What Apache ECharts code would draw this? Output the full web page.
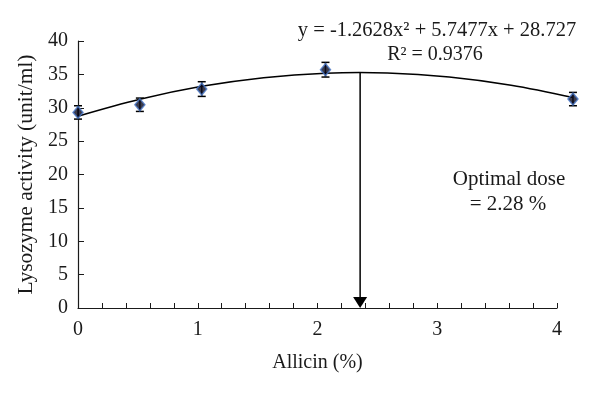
<!DOCTYPE html>
<html><head><meta charset="utf-8">
<script src="https://cdn.jsdelivr.net/npm/echarts@6/dist/echarts.min.js"></script>
<style>html,body{margin:0;padding:0;background:#fff}#c{width:600px;height:393px}</style>
</head><body><div id="c"></div>
<script>
// Data
const doseX = [0, 0.5, 1, 2, 4];
const activity = [29.3, 30.45, 32.8, 35.7, 31.3];
const errors = [1.0, 1.0, 1.1, 1.1, 1.0];
const trendX = [0, 0.5, 1, 1.5, 2, 2.5, 3, 3.5, 4];
const trendY = [28.73, 31.27, 33.21, 34.51, 35.17, 35.20, 34.59, 33.36, 31.52];
const xTicks = [0, 1, 2, 3, 4];
const yTicks = [0, 5, 10, 15, 20, 25, 30, 35, 40];
const optimalDose = 2.28;
const optimalTop = 35.27;
const equationText = 'y = -1.2628x² + 5.7477x + 28.727';
const r2Text = 'R² = 0.9376';
const noteLine1 = 'Optimal dose';
const noteLine2 = '= 2.28 %';
// plotting scale of the data in the picture (last point drawn right of the "4" tick)
const dataAxisMax = 3.871;

const FONT = '"Liberation Serif","DejaVu Serif",serif';
const INK = '#1a1a1a';

const chart = echarts.init(document.getElementById('c'));
chart.setOption({
  animation: false,
  backgroundColor: '#fff',
  grid: {left: 78, right: 43, top: 41, bottom: 85},
  xAxis: [{
    type: 'value', min: xTicks[0], max: xTicks[xTicks.length - 1], interval: 1,
    name: 'Allicin (%)', nameLocation: 'middle', nameGap: 45,
    nameTextStyle: {fontFamily: FONT, fontSize: 20, color: INK},
    axisLine: {lineStyle: {color: INK, width: 1.2}},
    axisTick: {inside: true, length: 5, lineStyle: {color: INK}},
    minorTick: {show: true, splitNumber: 5, length: 5, lineStyle: {color: INK}},
    splitLine: {show: false},
    axisLabel: {fontFamily: FONT, fontSize: 20, color: INK, margin: 12}
  }, {
    type: 'value', min: 0, max: dataAxisMax, show: false
  }],
  yAxis: {
    type: 'value', min: yTicks[0], max: yTicks[yTicks.length - 1], interval: 5,
    name: 'Lysozyme activity (unit/ml)', nameLocation: 'middle', nameGap: 37,
    nameTextStyle: {fontFamily: FONT, fontSize: 21.5, color: INK},
    axisLine: {show: true, lineStyle: {color: INK, width: 1.2}},
    axisTick: {show: true, inside: true, length: 6, lineStyle: {color: INK}},
    splitLine: {show: false},
    axisLabel: {fontFamily: FONT, fontSize: 20, color: INK, margin: 10}
  },
  series: [{
    // quadratic trend line
    type: 'custom', xAxisIndex: 1, clip: false, z: 2,
    data: [[trendX[0], trendY[0]]],
    renderItem: (params, api) => {
      const pts = trendX.map((x, i) => api.coord([x, trendY[i]]));
      return {type: 'polyline', shape: {points: pts, smooth: 0.35},
        style: {stroke: '#000', lineWidth: 1.5, fill: null}};
    }
  }, {
    type: 'custom', xAxisIndex: 1, clip: false, z: 3,
    data: doseX.map((x, i) => [x, activity[i], errors[i]]),
    renderItem: (params, api) => {
      const x = api.value(0), y = api.value(1), e = api.value(2);
      const lo = api.coord([x, y - e]), hi = api.coord([x, y + e]);
      const w = 4;
      const st = {stroke: '#000', lineWidth: 1.5};
      return {type: 'group', children: [
        {type: 'line', shape: {x1: lo[0], y1: lo[1], x2: hi[0], y2: hi[1]}, style: st},
        {type: 'line', shape: {x1: lo[0] - w, y1: lo[1], x2: lo[0] + w, y2: lo[1]}, style: st},
        {type: 'line', shape: {x1: hi[0] - w, y1: hi[1], x2: hi[0] + w, y2: hi[1]}, style: st}
      ]};
    }
  }, {
    type: 'scatter', xAxisIndex: 1, clip: false, z: 4,
    symbol: 'diamond', symbolSize: [10, 12],
    data: doseX.map((x, i) => [x, activity[i]]),
    itemStyle: {color: '#0a0a1e', borderColor: '#4a78c8', borderWidth: 1.5}
  }, {
    type: 'custom', xAxisIndex: 1, clip: false, z: 2,
    data: [[optimalDose, optimalTop]],
    renderItem: (params, api) => {
      const x = api.value(0), top = api.value(1);
      const a = api.coord([x, top]), b = api.coord([x, 0]);
      return {type: 'group', children: [
        {type: 'line', shape: {x1: a[0], y1: a[1], x2: b[0], y2: b[1] - 8}, style: {stroke: '#000', lineWidth: 1.5}},
        {type: 'polygon', shape: {points: [[b[0] - 7, b[1] - 11], [b[0] + 7, b[1] - 11], [b[0], b[1]]]}, style: {fill: '#000'}}
      ]};
    }
  }],
  graphic: [
    {type: 'text', x: 437, y: 31, style: {text: equationText, font: '20.5px ' + FONT, fill: INK, textAlign: 'center', textVerticalAlign: 'middle'}},
    {type: 'text', x: 435, y: 55, style: {text: r2Text, font: '20px ' + FONT, fill: INK, textAlign: 'center', textVerticalAlign: 'middle'}},
    {type: 'text', x: 509, y: 179, style: {text: noteLine1, font: '21px ' + FONT, fill: INK, textAlign: 'center', textVerticalAlign: 'middle'}},
    {type: 'text', x: 508, y: 204, style: {text: noteLine2, font: '21px ' + FONT, fill: INK, textAlign: 'center', textVerticalAlign: 'middle'}}
  ]
});
</script></body></html>
